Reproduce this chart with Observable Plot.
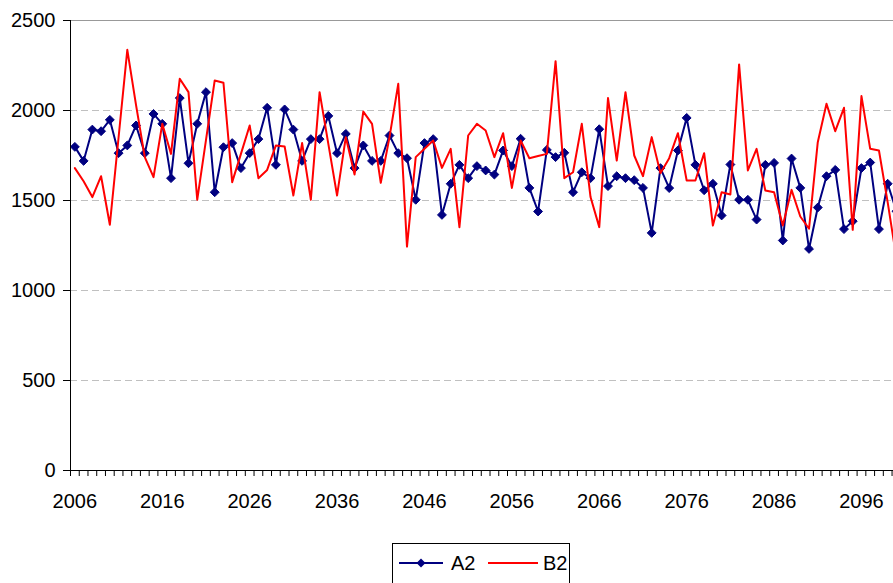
<!DOCTYPE html>
<html><head><meta charset="utf-8">
<script src="https://cdn.jsdelivr.net/npm/d3@7"></script>
<script src="https://cdn.jsdelivr.net/npm/@observablehq/plot@0.6"></script>
<style>
html,body{margin:0;padding:0;overflow:hidden;background:#fff;}
#wrap{position:relative;width:893px;height:583px;overflow:hidden;}
#legend{position:absolute;left:392px;top:543px;width:178px;height:50px;border:1px solid #000;background:#fff;box-sizing:border-box;}
#legend svg{display:block;}
</style></head><body><div id="wrap"></div>
<script>
const years = d3.range(2006, 2101);
const a2 = [1798,1720,1894,1885,1948,1763,1806,1917,1763,1981,
            1926,1624,2069,1707,1926,2102,1546,1796,1819,1680,
            1763,1841,2015,1698,2006,1894,1720,1841,1841,1970,
            1763,1870,1680,1806,1720,1720,1861,1763,1735,1504,
            1819,1841,1420,1593,1698,1624,1691,1667,1644,1778,
            1691,1843,1570,1439,1781,1741,1765,1546,1657,1624,
            1896,1580,1635,1624,1613,1570,1320,1680,1569,1778,
            1959,1698,1557,1593,1417,1700,1504,1504,1394,1698,
            1709,1278,1733,1570,1231,1461,1635,1670,1341,1385,
            1680,1711,1341,1593,1440];
const b2 = [1680,1607,1519,1635,1365,1850,2337,2030,1741,1630,
            1926,1759,2176,2102,1504,1835,2167,2154,1602,1759,
            1917,1624,1670,1806,1800,1528,1819,1504,2102,1815,
            1528,1852,1644,1994,1926,1598,1852,2148,1244,1741,
            1787,1833,1681,1787,1352,1861,1926,1889,1741,1874,
            1570,1833,1735,1747,1759,2274,1624,1657,1926,1519,
            1352,2069,1722,2102,1750,1635,1852,1652,1735,1874,
            1611,1611,1763,1361,1546,1533,2256,1667,1787,1556,
            1546,1361,1559,1411,1343,1824,2037,1885,2015,1337,
            2080,1787,1778,1490,1180];
const yTicks = [0, 500, 1000, 1500, 2000, 2500];
const xLabelYears = [2006, 2016, 2026, 2036, 2046, 2056, 2066, 2076, 2086, 2096];
const seriesNames = ["A2", "B2"];
const seriesColors = ["#000080", "#ff0000"];

const rowsA = years.map((yr, i) => ({year: yr, value: a2[i]}));
const rowsB = years.map((yr, i) => ({year: yr, value: b2[i]}));
const boundaries = years.map(y => y - 0.5).concat([years[years.length - 1] + 0.5]);
const font = "'Liberation Sans', Arial, sans-serif";

const chart = Plot.plot({
  width: 893, height: 583,
  marginLeft: 70, marginRight: 0, marginTop: 20, marginBottom: 113,
  style: {fontFamily: font, fontSize: "20px", color: "#000", background: "#fff", overflow: "hidden"},
  x: {type: "linear", domain: [2005.5, 2100.5], range: [70, 900.3]},
  y: {domain: [0, 2500], range: [470, 20]},
  marks: [
    Plot.ruleY(yTicks.filter(v => v > 0 && v < 2500), {stroke: "#c0c0c0", strokeDasharray: "7,4", strokeWidth: 1}),
    Plot.ruleY([2500], {stroke: "#999", strokeWidth: 1}),
    Plot.line(rowsA, {x: "year", y: "value", stroke: seriesColors[0], strokeWidth: 2, clip: true}),
    Plot.dot(rowsA, {x: "year", y: "value", symbol: "diamond2", r: 4, fill: seriesColors[0], stroke: seriesColors[0], strokeWidth: 1, clip: true}),
    Plot.line(rowsB, {x: "year", y: "value", stroke: seriesColors[1], strokeWidth: 2, clip: true}),
    Plot.ruleX([2005.5], {y1: 0, y2: 2500, stroke: "#000", strokeWidth: 1}),
    Plot.ruleY([0], {stroke: "#000", strokeWidth: 1}),
    Plot.axisY({ticks: yTicks, tickSize: 7, tickPadding: 8, tickFormat: d => String(d), label: null}),
    Plot.axisX({ticks: boundaries, tickSize: 6, tickFormat: () => "", label: null}),
    Plot.axisX({ticks: xLabelYears, tickSize: 0, tickPadding: 23, tickFormat: d => String(d), label: null})
  ]
});
const wrap = document.getElementById("wrap");
wrap.appendChild(chart);

// legend
const leg = document.createElement("div");
leg.id = "legend";
const ns = "http://www.w3.org/2000/svg";
const svg = document.createElementNS(ns, "svg");
svg.setAttribute("width", "176");
svg.setAttribute("height", "48");
const items = [
  {x1: 6, x2: 50, tx: 58},
  {x1: 95, x2: 145, tx: 150}
];
seriesNames.forEach((name, i) => {
  const it = items[i];
  const ln = document.createElementNS(ns, "line");
  ln.setAttribute("x1", it.x1); ln.setAttribute("x2", it.x2);
  ln.setAttribute("y1", 19); ln.setAttribute("y2", 19);
  ln.setAttribute("stroke", seriesColors[i]); ln.setAttribute("stroke-width", 2);
  svg.appendChild(ln);
  if (i === 0) {
    const p = document.createElementNS(ns, "path");
    const cx = (it.x1 + it.x2) / 2, r = 4.5;
    p.setAttribute("d", `M${cx},${19 - r}L${cx + r},19L${cx},${19 + r}L${cx - r},19Z`);
    p.setAttribute("fill", seriesColors[0]);
    svg.appendChild(p);
  }
  const t = document.createElementNS(ns, "text");
  t.setAttribute("x", it.tx); t.setAttribute("y", 26);
  t.setAttribute("font-family", font); t.setAttribute("font-size", "20px");
  t.textContent = name;
  svg.appendChild(t);
});
leg.appendChild(svg);
wrap.appendChild(leg);
</script>
</body></html>
